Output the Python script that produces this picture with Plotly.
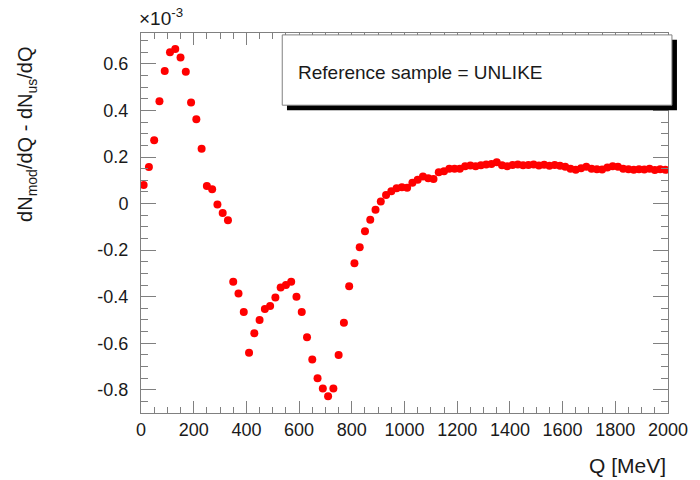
import plotly.graph_objects as go

# Bin centres of Q [MeV] and difference values (in units of 1e-3)
q_mev = [10 + 20 * i for i in range(100)]
diff_e3 = [
    0.080, 0.157, 0.272, 0.440, 0.570, 0.650, 0.664, 0.628, 0.566, 0.434,
    0.362, 0.236, 0.075, 0.062, -0.004, -0.040, -0.072, -0.336, -0.386, -0.466,
    -0.641, -0.557, -0.500, -0.453, -0.440, -0.404, -0.361, -0.350, -0.336, -0.400,
    -0.466, -0.575, -0.670, -0.751, -0.795, -0.828, -0.795, -0.651, -0.512, -0.355,
    -0.256, -0.188, -0.119, -0.069, -0.027, 0.009, 0.037, 0.053, 0.066, 0.070,
    0.068, 0.089, 0.102, 0.116, 0.109, 0.106, 0.135, 0.139, 0.150, 0.150,
    0.150, 0.160, 0.164, 0.160, 0.165, 0.168, 0.170, 0.178, 0.165, 0.160,
    0.166, 0.168, 0.165, 0.166, 0.168, 0.164, 0.167, 0.163, 0.166, 0.162,
    0.158, 0.150, 0.145, 0.152, 0.158, 0.150, 0.148, 0.146, 0.155, 0.160,
    0.158, 0.150, 0.148, 0.145, 0.148, 0.146, 0.150, 0.144, 0.148, 0.145,
]

x_tickvals = [0, 200, 400, 600, 800, 1000, 1200, 1400, 1600, 1800, 2000]
x_ticktext = [str(v) for v in x_tickvals]
y_tickvals = [-0.8, -0.6, -0.4, -0.2, 0, 0.2, 0.4, 0.6]
y_ticktext = ["-0.8", "-0.6", "-0.4", "-0.2", "0", "0.2", "0.4", "0.6"]

legend_text = "Reference sample = UNLIKE"
x_title = "Q [MeV]"
y_title = "dN<sub>mod</sub>/dQ - dN<sub>us</sub>/dQ"
exponent_text = "×10<sup>-3</sup>"

FONT = "Liberation Sans, Arial, sans-serif"
AXC = "#808080"
TXT = "#1a1a1a"

fig = go.Figure()
fig.add_trace(go.Scatter(
    x=q_mev, y=diff_e3, mode="markers",
    marker=dict(color="#ff0000", size=8, line=dict(width=0)),
    showlegend=False, hoverinfo="skip",
))

fig.update_layout(
    width=700, height=480,
    margin=dict(l=141, r=29, t=33, b=67),
    paper_bgcolor="white", plot_bgcolor="white",
    font=dict(family=FONT, size=18, color=TXT),
    xaxis=dict(
        range=[0, 2000], tickvals=x_tickvals, ticktext=x_ticktext,
        ticks="inside", ticklen=12, tickcolor=AXC, tickwidth=1,
        showline=True, linecolor=AXC, linewidth=1, mirror="ticks",
        showgrid=False, zeroline=False,
        minor=dict(dtick=50, ticks="inside", ticklen=6, tickcolor=AXC, showgrid=False),
        tickfont=dict(size=18),
    ),
    yaxis=dict(
        range=[-0.9, 0.733], tickvals=y_tickvals, ticktext=y_ticktext,
        ticks="inside", ticklen=15, tickcolor=AXC, tickwidth=1,
        showline=True, linecolor=AXC, linewidth=1, mirror="ticks",
        showgrid=False, zeroline=False,
        minor=dict(dtick=0.05, tick0=0, ticks="inside", ticklen=7, tickcolor=AXC, showgrid=False),
        tickfont=dict(size=18),
        ticklabelstandoff=8,
    ),
)

# Legend-like box with shadow (ROOT TPaveText style)
fig.add_shape(type="rect", xref="paper", yref="paper",
              x0=0.277, x1=1.017, y0=0.797, y1=0.982,
              fillcolor="black", line=dict(width=0), layer="above")
fig.add_shape(type="rect", xref="paper", yref="paper",
              x0=0.268, x1=1.0075, y0=0.81, y1=0.995,
              fillcolor="white", line=dict(color=AXC, width=1), layer="above")
fig.add_annotation(xref="paper", yref="paper", x=0.294, y=0.897,
                   text=legend_text, showarrow=False, xanchor="left", yanchor="middle",
                   font=dict(size=19, family=FONT, color=TXT))

fig.add_annotation(xref="paper", yref="paper", x=1.0, y=-0.137,
                   text=x_title, showarrow=False, xanchor="right", yanchor="middle",
                   font=dict(size=21, family=FONT, color=TXT))
fig.add_annotation(xref="paper", yref="paper", x=-0.217, y=0.969,
                   text=y_title, showarrow=False, textangle=-90,
                   xanchor="center", yanchor="top",
                   font=dict(size=20, family=FONT, color=TXT))
fig.add_annotation(xref="paper", yref="paper", x=-0.008, y=1.005,
                   text=exponent_text, showarrow=False, xanchor="left", yanchor="bottom",
                   font=dict(size=19, family=FONT, color=TXT))

fig.write_html("out.html", post_script="document.body.style.margin='0';",
               config={"displayModeBar": False})
